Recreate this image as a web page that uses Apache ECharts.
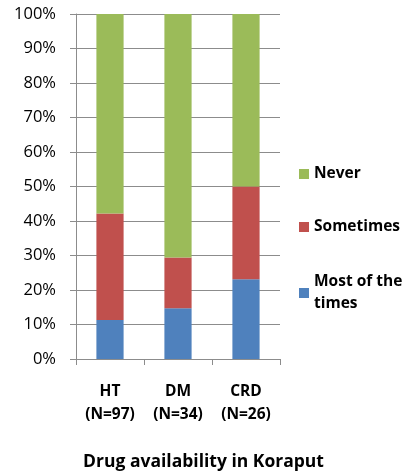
<!DOCTYPE html>
<html>
<head>
<meta charset="utf-8">
<script src="https://cdn.jsdelivr.net/npm/echarts@6/dist/echarts.min.js"></script>
<style>
  html, body { margin: 0; padding: 0; background: #fff; }
  #chart { width: 407px; height: 473px; }
</style>
</head>
<body>
<div id="chart"></div>
<script>
// Drug availability by condition, share of respondents (%)
const categories = ['HT\n(N=97)', 'DM\n(N=34)', 'CRD\n(N=26)'];
const mostOfTheTimes = [11.3, 14.7, 23.1];
const sometimes = [30.9, 14.7, 26.9];
const never = [57.8, 70.6, 50.0];
const yTicks = [0, 10, 20, 30, 40, 50, 60, 70, 80, 90, 100];

const font = '"Open Sans", "Liberation Sans", sans-serif';
const gridColor = '#8c8c8c';

const chart = echarts.init(document.getElementById('chart'));

function barSeries(name, data, color) {
  return {
    name: name,
    type: 'bar',
    stack: 'total',
    data: data,
    barWidth: '40%',
    itemStyle: { color: color },
    emphasis: { disabled: true }
  };
}

const legendText = { fontFamily: font, fontSize: 15.5, fontWeight: 'bold', color: '#000', lineHeight: 22 };
const legendBase = {
  orient: 'vertical',
  left: 294,
  itemWidth: 10,
  itemHeight: 10,
  icon: 'rect',
  textStyle: legendText
};

chart.setOption({
  animation: false,
  title: {
    text: 'Drug availability in Koraput',
    left: 'center',
    top: 448,
    textStyle: { fontFamily: font, fontSize: 17.5, fontWeight: 'bold', color: '#000' }
  },
  grid: { left: 76, right: 127, top: 14, bottom: 114 },
  legend: [
    Object.assign({}, legendBase, {
      top: 158,
      itemGap: 31,
      data: ['Never', 'Sometimes']
    }),
    Object.assign({}, legendBase, {
      top: 255,
      data: [{ name: 'Most of the times', textStyle: { padding: [0, 0, 22, 0] } }],
      formatter: function () { return 'Most of the\ntimes'; }
    })
  ],
  xAxis: {
    type: 'category',
    data: categories,
    axisLine: { lineStyle: { color: gridColor } },
    axisTick: { show: true, length: 6, lineStyle: { color: gridColor } },
    axisLabel: {
      fontFamily: font, fontSize: 15.5, fontWeight: 'bold', color: '#000',
      margin: 21, lineHeight: 23
    }
  },
  yAxis: {
    type: 'value',
    min: yTicks[0],
    max: yTicks[yTicks.length - 1],
    interval: 10,
    axisLine: { show: true, lineStyle: { color: gridColor } },
    axisTick: { show: true, length: 6, lineStyle: { color: gridColor } },
    splitLine: { lineStyle: { color: gridColor } },
    axisLabel: {
      fontFamily: font, fontSize: 16.5, color: '#000', margin: 20,
      formatter: '{value}%'
    }
  },
  series: [
    barSeries('Most of the times', mostOfTheTimes, '#4F81BD'),
    barSeries('Sometimes', sometimes, '#C0504D'),
    barSeries('Never', never, '#9BBB59')
  ]
});
</script>
</body>
</html>
